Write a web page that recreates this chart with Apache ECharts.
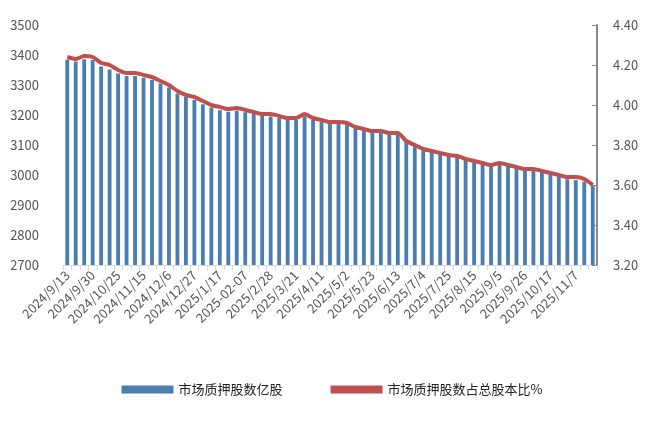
<!DOCTYPE html>
<html>
<head>
<meta charset="utf-8">
<script src="https://cdn.jsdelivr.net/npm/echarts@6/dist/echarts.min.js"></script>
<style>
  html, body { margin: 0; padding: 0; background: #fff; }
  #chart { width: 664px; height: 421px; }
</style>
</head>
<body>
<div id="chart"></div>
<script>
var categories = [
  "2024/9/13", "2024/9/20", "2024/9/27", "2024/9/30", "2024/10/11", "2024/10/18",
  "2024/10/25", "2024/11/1", "2024/11/8", "2024/11/15", "2024/11/22", "2024/11/29",
  "2024/12/6", "2024/12/13", "2024/12/20", "2024/12/27", "2025/1/3", "2025/1/10",
  "2025/1/17", "2025/1/24", "2025/1/27", "2025-02-07", "2025/2/14", "2025/2/21",
  "2025/2/28", "2025/3/7", "2025/3/14", "2025/3/21", "2025/3/28", "2025/4/3",
  "2025/4/11", "2025/4/18", "2025/4/25", "2025/5/2", "2025/5/9", "2025/5/16",
  "2025/5/23", "2025/5/30", "2025/6/6", "2025/6/13", "2025/6/20", "2025/6/27",
  "2025/7/4", "2025/7/11", "2025/7/18", "2025/7/25", "2025/8/1", "2025/8/8",
  "2025/8/15", "2025/8/22", "2025/8/29", "2025/9/5", "2025/9/12", "2025/9/19",
  "2025/9/26", "2025/9/30", "2025/10/10", "2025/10/17", "2025/10/24", "2025/10/31",
  "2025/11/7", "2025/11/14", "2025/11/21"
];
var pledgeAmount = [
  3384, 3378, 3386, 3383, 3362, 3352, 3338, 3330, 3330, 3324, 3317, 3305,
  3292, 3272, 3260, 3250, 3236, 3225, 3216, 3211, 3215, 3209, 3203, 3197,
  3195, 3190, 3184, 3183, 3196, 3184, 3178, 3173, 3172, 3168, 3156, 3150,
  3144, 3143, 3138, 3137, 3112, 3098, 3085, 3078, 3072, 3065, 3063, 3051,
  3045, 3038, 3031, 3036, 3030, 3023, 3018, 3018, 3010, 3003, 2995, 2986,
  2983, 2978, 2963
];
var pledgeRatio = [
  4.24, 4.23, 4.245, 4.24, 4.21, 4.20, 4.175, 4.16, 4.16, 4.15, 4.14, 4.12,
  4.10, 4.07, 4.05, 4.04, 4.02, 4.00, 3.99, 3.98, 3.985, 3.975, 3.965, 3.955,
  3.955, 3.945, 3.935, 3.935, 3.955, 3.935, 3.925, 3.915, 3.915, 3.91, 3.89, 3.88,
  3.87, 3.87, 3.86, 3.86, 3.82, 3.80, 3.78, 3.77, 3.76, 3.75, 3.745, 3.73,
  3.72, 3.71, 3.70, 3.71, 3.70, 3.69, 3.68, 3.68, 3.67, 3.66, 3.65, 3.64,
  3.64, 3.63, 3.60
];

var myChart = echarts.init(document.getElementById("chart"));
var font = "'Noto Sans CJK SC', 'Liberation Sans', sans-serif";
var option = {
  animation: false,
  textStyle: { fontFamily: font },
  grid: { left: 63, right: 67, top: 25, bottom: 156 },
  legend: {
    bottom: 20,
    itemGap: 48,
    itemWidth: 52,
    itemHeight: 8,
    textStyle: { color: "#222", fontSize: 13 },
    data: [
      { name: "市场质押股数亿股", icon: "rect" },
      { name: "市场质押股数占总股本比%", icon: "rect" }
    ]
  },
  xAxis: {
    type: "category",
    data: categories,
    axisLine: { lineStyle: { color: "#d9d9d9" } },
    axisTick: { show: true, interval: 0, lineStyle: { color: "#d9d9d9" } },
    axisLabel: { interval: 2, rotate: 45, color: "#555", fontSize: 13, margin: 8 }
  },
  yAxis: [
    {
      type: "value", min: 2700, max: 3500, interval: 100,
      axisLine: { show: false }, axisTick: { show: false },
      splitLine: { show: false },
      axisLabel: {
        color: "#555", fontSize: 13, margin: 24,
        formatter: function (v) { return String(v); }
      }
    },
    {
      type: "value", min: 3.2, max: 4.4, interval: 0.2,
      axisLine: { show: true, lineStyle: { color: "#888", width: 2 } },
      axisTick: { show: true, inside: true, length: 5, lineStyle: { color: "#888" } },
      splitLine: { show: false },
      axisLabel: { color: "#555", fontSize: 13, margin: 16, formatter: function (v) { return v.toFixed(2); } }
    }
  ],
  series: [
    {
      name: "市场质押股数亿股",
      type: "bar",
      data: pledgeAmount,
      barWidth: "45%",
      itemStyle: { color: "#4a7eb0" }
    },
    {
      name: "市场质押股数占总股本比%",
      type: "line",
      yAxisIndex: 1,
      data: pledgeRatio,
      symbol: "none",
      smooth: 0.2,
      lineStyle: { color: "#c0504d", width: 4 },
      itemStyle: { color: "#c0504d" }
    }
  ]
};
myChart.setOption(option);
window.addEventListener("resize", function () {
  myChart.resize();
});
</script>
</body>
</html>
